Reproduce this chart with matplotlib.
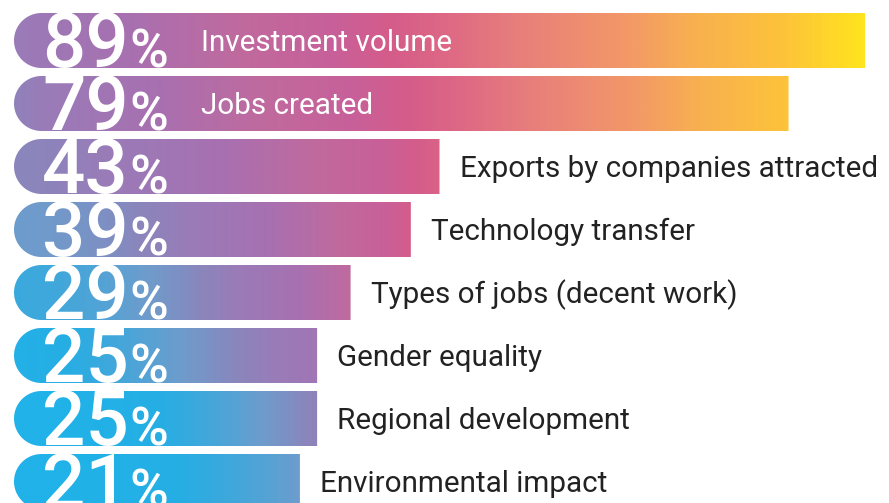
import numpy as np
import matplotlib.pyplot as plt
from matplotlib.path import Path
from matplotlib.patches import PathPatch
from matplotlib.colors import LinearSegmentedColormap

# data
categories = ["Investment volume", "Jobs created", "Exports by companies attracted",
              "Technology transfer", "Types of jobs (decent work)", "Gender equality",
              "Regional development", "Environmental impact"]
values = [89, 79, 43, 39, 29, 25, 25, 21]
# drawn bar lengths (not proportional to the values in the original)
bar_lengths = [89, 81, 44.5, 41.5, 35.2, 31.7, 31.7, 29.9]

W, H = 889, 503
PX = 9.562        # pixels per x unit
X0 = 14           # pixel where bars start
PITCH = 63        # row pitch in pixels
ROW0 = 40.5       # centre of first row in pixels

# gradient: position in colour ramp at the left and right end of each bar
grad_left = [0.25, 0.22, 0.20, 0.14, 0.07, 0.02, 0.0, 0.0]
grad_right = [1.0, 0.93, 0.61, 0.58, 0.45, 0.30, 0.22, 0.14]
grad_pow = [1.0, 1.0, 1.4, 1.7, 1.8, 1.4, 2.2, 2.2]
stops = [(0.00, "#20b2e8"), (0.04, "#26aee4"), (0.14, "#6e9ccc"), (0.20, "#8a86bc"),
         (0.25, "#9a7bb8"), (0.35, "#a870b0"), (0.45, "#c06a9e"), (0.53, "#c8609a"),
         (0.58, "#d45c8a"), (0.62, "#dc6586"), (0.70, "#e8807a"), (0.79, "#f39868"),
         (0.85, "#f8b050"), (0.93, "#fdc33a"), (1.00, "#ffe41e")]
cmap = LinearSegmentedColormap.from_list("grad", stops)

fig = plt.figure(figsize=(W / 100, H / 100), dpi=100)
ax = fig.add_axes([0, 0, 1, 1])
xmin, xmax = -X0 / PX, (W - X0) / PX
ytop, ybot = -ROW0 / PITCH, (H - ROW0) / PITCH
ax.axis("off")

h = 55 / PITCH
rx = 27.5 / PX
ry = h / 2
for i, L in enumerate(bar_lengths):
    # bar outline with a round left end
    t = np.linspace(np.pi / 2, 3 * np.pi / 2, 40)
    arc = np.column_stack([rx + rx * np.cos(t), i - ry * np.sin(t)])
    verts = [(rx, i - ry), (L, i - ry), (L, i + ry), (rx, i + ry)]
    verts += [tuple(p) for p in arc[::-1]]
    verts.append(verts[0])
    codes = [Path.MOVETO] + [Path.LINETO] * (len(verts) - 2) + [Path.CLOSEPOLY]
    patch = PathPatch(Path(verts, codes), facecolor="none", edgecolor="none")
    ax.add_patch(patch)

    u = np.linspace(0, 1, 500)
    s = grad_left[i] + (grad_right[i] - grad_left[i]) * u ** grad_pow[i]
    im = ax.imshow(s[None, :], cmap=cmap, vmin=0, vmax=1,
                   extent=[0, L, i + ry, i - ry], aspect="auto",
                   interpolation="bilinear")
    im.set_clip_path(patch)

ax.set_xlim(xmin, xmax)
ax.set_ylim(ybot, ytop)

font = "Roboto"
for i, (cat, v, L) in enumerate(zip(categories, values, bar_lengths)):
    base = i + 26.5 / PITCH
    ax.text((42 - X0) / PX, base, str(v), color="white", fontsize=55,
            family=font, fontweight="medium", va="baseline", ha="left")
    ax.text((129 - X0) / PX, base, "%", color="white", fontsize=38,
            family=font, fontweight="medium", va="baseline", ha="left")
    lab_y = i + 10.5 / PITCH
    if v > 50:
        ax.text((201 - X0) / PX, lab_y, cat, color="white", fontsize=21.3,
                family=font, va="baseline", ha="left")
    else:
        ax.text(L + 20 / PX, lab_y, cat, color="#222222", fontsize=21.3,
                family=font, va="baseline", ha="left")

fig.savefig("out.png", dpi=100)
